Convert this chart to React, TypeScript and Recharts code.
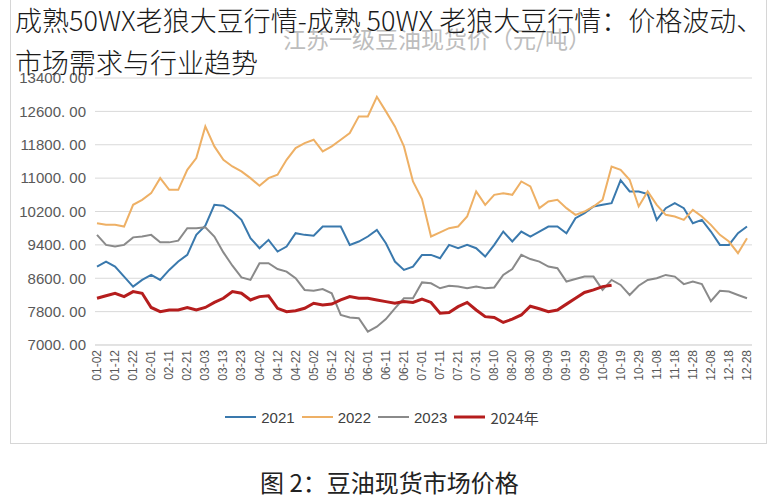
import React from "react";
import { LineChart, Line, XAxis, YAxis, CartesianGrid } from "recharts";

// every 5 days, labels shown every 10 days
const dates = [
  "01-02", "01-07", "01-12", "01-17", "01-22", "01-27", "02-01", "02-06", "02-11", "02-16",
  "02-21", "02-26", "03-03", "03-08", "03-13", "03-18", "03-23", "03-28", "04-02", "04-07",
  "04-12", "04-17", "04-22", "04-27", "05-02", "05-07", "05-12", "05-17", "05-22", "05-27",
  "06-01", "06-06", "06-11", "06-16", "06-21", "06-26", "07-01", "07-06", "07-11", "07-16",
  "07-21", "07-26", "07-31", "08-05", "08-10", "08-15", "08-20", "08-25", "08-30", "09-04",
  "09-09", "09-14", "09-19", "09-24", "09-29", "10-04", "10-09", "10-14", "10-19", "10-24",
  "10-29", "11-03", "11-08", "11-13", "11-18", "11-23", "11-28", "12-03", "12-08", "12-13",
  "12-18", "12-23", "12-28",
];

const s2021 = [
  8880, 9000, 8880, 8640, 8400, 8560, 8680, 8560, 8800, 9000,
  9160, 9640, 9860, 10360, 10340, 10200, 10000, 9560, 9320, 9520,
  9240, 9360, 9680, 9640, 9620, 9840, 9840, 9840, 9400, 9480,
  9600, 9760, 9440, 9000, 8800, 8880, 9160, 9160, 9080, 9400,
  9320, 9400, 9320, 9120, 9400, 9720, 9480, 9720, 9600, 9720,
  9840, 9840, 9680, 10040, 10160, 10320, 10360, 10400, 10950, 10680,
  10680, 10620, 10000, 10280, 10400, 10280, 9920, 10000, 9720, 9400,
  9400, 9680, 9840,
];

const s2022 = [
  9920, 9880, 9880, 9840, 10360, 10480, 10640, 11000, 10720, 10720,
  11200, 11480, 12240, 11760, 11440, 11280, 11160, 11000, 10816, 11000,
  11080, 11440, 11720, 11840, 11920, 11640, 11760, 11920, 12080, 12480,
  12480, 12950, 12600, 12240, 11760, 10920, 10500, 9600, 9700, 9800,
  9840, 10080, 10680, 10360, 10600, 10640, 10600, 10920, 10800, 10280,
  10440, 10480, 10280, 10120, 10200, 10320, 10480, 11280, 11200, 10960,
  10320, 10680, 10360, 10120, 10080, 10000, 10240, 10080, 9880, 9640,
  9480, 9200, 9560,
];

const s2023 = [
  9640, 9400, 9360, 9400, 9580, 9600, 9640, 9460, 9460, 9500,
  9800, 9800, 9820, 9600, 9220, 8900, 8620, 8560, 8960, 8960,
  8820, 8760, 8600, 8320, 8300, 8340, 8240, 7720, 7660, 7640,
  7320, 7440, 7620, 7880, 8120, 8120, 8500, 8480, 8360, 8420,
  8400, 8360, 8400, 8360, 8380, 8680, 8820, 9160, 9060, 9000,
  8880, 8840, 8520, 8580, 8640, 8640, 8320, 8560, 8440, 8200,
  8420, 8560, 8600, 8680, 8640, 8460, 8520, 8460, 8050, 8300,
  8280, 8200, 8120,
];

const s2024 = [
  8120, 8180, 8240, 8160, 8280, 8240, 7900, 7800, 7840, 7840,
  7900, 7840, 7900, 8020, 8120, 8280, 8240, 8080, 8160, 8180,
  7880, 7800, 7820, 7880, 8000, 7960, 7980, 8080, 8160, 8120,
  8120, 8080, 8040, 8000, 8040, 8020, 8100, 8020, 7760, 7780,
  7920, 8020, 7840, 7680, 7660, 7540, 7620, 7720, 7930, 7870,
  7800, 7840, 7980, 8120, 8260, 8320, 8400, 8430,
];

const yTicks = [7000, 7800, 8600, 9400, 10200, 11000, 11800, 12600, 13400];

const series = [
  { key: "y2021", name: "2021", color: "#3a79ad", width: 2 },
  { key: "y2022", name: "2022", color: "#eeb065", width: 2 },
  { key: "y2023", name: "2023", color: "#8a8a8a", width: 2 },
  { key: "y2024", name: "2024年", color: "#b51d1d", width: 3 },
];

const data = dates.map((d, i) => ({
  date: d,
  y2021: s2021[i],
  y2022: s2022[i],
  y2023: s2023[i],
  y2024: s2024[i] ?? null,
}));

const axisFont = '"Liberation Sans", Arial, sans-serif';
const cjkFont = '"Noto Sans CJK SC", "Noto Sans", sans-serif';

function DateTick({ x, y, payload }: any) {
  return (
    <g transform={`translate(${x},${y})`}>
      <text
        x={0}
        y={0}
        dy={4}
        textAnchor="end"
        transform="rotate(-90)"
        fontSize={12}
        fontFamily={axisFont}
        fill="#595959"
      >
        {payload.value}
      </text>
    </g>
  );
}

export default function App() {
  return (
    <div
      style={{
        position: "absolute",
        left: 0,
        top: 0,
        width: 771,
        height: 500,
        background: "#fff",
        overflow: "hidden",
        fontFamily: cjkFont,
      }}
    >
      <div
        style={{
          position: "absolute",
          left: 10,
          top: -1,
          width: 755,
          height: 443,
          border: "1px solid #d6d6d6",
        }}
      />
      <div
        style={{
          position: "absolute",
          left: 283,
          top: 26,
          fontSize: 23,
          lineHeight: "24px",
          color: "#bdbdbd",
          whiteSpace: "nowrap",
        }}
      >
        江苏一级豆油现货价（元/吨）
      </div>

      <div style={{ position: "absolute", left: 0, top: 0 }}>
        <LineChart width={771} height={445} data={data} margin={{ top: 78, right: 19, left: 0, bottom: 60 }}>
          <CartesianGrid vertical={false} stroke="#d9d9d9" />
          <XAxis
            dataKey="date"
            interval={1}
            height={40}
            tickLine={false}
            tickSize={0}
            tickMargin={5}
            axisLine={{ stroke: "#d9d9d9" }}
            padding={{ left: 2, right: 5 }}
            tick={<DateTick />}
          />
          <YAxis
            width={95}
            domain={[7000, 13400]}
            ticks={yTicks}
            axisLine={false}
            tickLine={false}
            tickSize={0}
            tickMargin={9}
            tick={{ fontSize: 15, fill: "#595959", fontFamily: axisFont }}
            tickFormatter={(v: number) => v.toFixed(2).replace(".", ". ")}
          />
          {series.map((s) => (
            <Line
              key={s.key}
              type="linear"
              dataKey={s.key}
              name={s.name}
              stroke={s.color}
              strokeWidth={s.width}
              dot={false}
              isAnimationActive={false}
              connectNulls={false}
            />
          ))}
        </LineChart>
      </div>

      <div
        style={{
          position: "absolute",
          left: 15,
          top: -1,
          fontSize: 27,
          lineHeight: "42px",
          color: "#1a1a1a",
          whiteSpace: "nowrap",
          fontWeight: 300,
        }}
      >
        成熟50WX老狼大豆行情-成熟 50WX 老狼大豆行情：价格波动、
        <br />
        市场需求与行业趋势
      </div>

      <div
        style={{
          position: "absolute",
          left: 0,
          top: 407,
          width: 771,
          height: 20,
          display: "flex",
          justifyContent: "center",
          alignItems: "center",
          fontFamily: axisFont,
          fontSize: 15,
          color: "#404040",
        }}
      >
        {series.map((s) => (
          <div key={s.key} style={{ display: "flex", alignItems: "center", marginRight: 7 }}>
            <svg width={31} height={6} style={{ marginRight: 5 }}>
              <line x1={0} y1={3} x2={31} y2={3} stroke={s.color} strokeWidth={s.width} />
            </svg>
            <span style={{ fontFamily: s.key === "y2024" ? cjkFont : axisFont }}>{s.name}</span>
          </div>
        ))}
      </div>

      <div
        style={{
          position: "absolute",
          left: 260,
          top: 466,
          fontSize: 24,
          lineHeight: "32px",
          color: "#222",
          whiteSpace: "nowrap",
        }}
      >
        图 2：豆油现货市场价格
      </div>
    </div>
  );
}
